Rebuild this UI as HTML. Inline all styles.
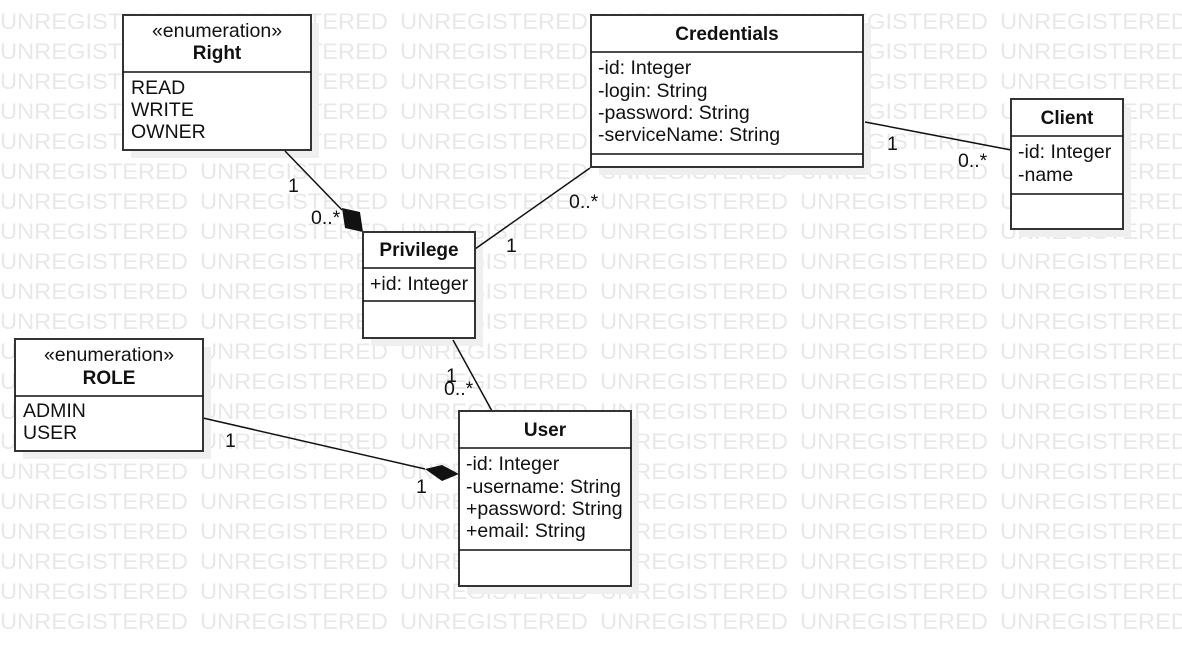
<!DOCTYPE html>
<html><head><meta charset="utf-8"><style>
html,body{margin:0;padding:0;background:#fff;width:1182px;height:646px;overflow:hidden}
svg{display:block;font-family:"Liberation Sans",Arial,sans-serif}
.wm{fill:#e8e8e8;font-size:22px}
.b{fill:#fff;stroke:#333;stroke-width:2}
.sh{fill:#efefef}
.t{font-size:19.5px;fill:#111}
.h{font-size:19px;font-weight:bold;fill:#111}
.l{stroke:#111;stroke-width:1.5;fill:none}
</style></head><body>
<svg width="1182" height="646" viewBox="0 0 1182 646" xmlns="http://www.w3.org/2000/svg">
<g class="wm" id="wm"></g>
<script>
(function(){var g=document.getElementById('wm');var ns='http://www.w3.org/2000/svg';
for(var r=0;r<21;r++){for(var c=0;c<6;c++){var t=document.createElementNS(ns,'text');t.setAttribute('x',c*200);t.setAttribute('y',29+r*30);t.setAttribute('textLength','188');t.setAttribute('lengthAdjust','spacingAndGlyphs');t.textContent='UNREGISTERED';g.appendChild(t);}}})();
</script>
<rect class="sh" x="131" y="23" width="188" height="135"/>
<rect class="sh" x="599" y="23" width="272" height="152"/>
<rect class="sh" x="1019" y="107" width="112" height="130"/>
<rect class="sh" x="371" y="240" width="112" height="106"/>
<rect class="sh" x="23" y="347" width="188" height="112"/>
<rect class="sh" x="467" y="419" width="172" height="175"/>
<line class="l" x1="285" y1="151" x2="342" y2="210"/>
<polygon points="363,232 360,212 342,208 345,228" fill="#111"/>
<line class="l" x1="590" y1="168" x2="475" y2="249"/>
<line class="l" x1="865" y1="122" x2="1011" y2="150"/>
<line class="l" x1="453" y1="340" x2="492" y2="411"/>
<line class="l" x1="203" y1="418" x2="425" y2="469"/>
<polygon points="459,474 442,465 425,469 442,481" fill="#111"/>
<rect class="b" x="123" y="15" width="188" height="135"/>
<line class="l" stroke-width="2" x1="123" y1="72" x2="311" y2="72"/>
<text class="t" x="217" y="37" text-anchor="middle">«enumeration»</text>
<text class="h" x="217" y="59" text-anchor="middle">Right</text>
<text class="t" x="131" y="94">READ</text>
<text class="t" x="131" y="116">WRITE</text>
<text class="t" x="131" y="138">OWNER</text>
<rect class="b" x="591" y="15" width="272" height="152"/>
<line class="l" stroke-width="2" x1="591" y1="52" x2="863" y2="52"/>
<line class="l" stroke-width="2" x1="591" y1="154" x2="863" y2="154"/>
<text class="h" x="727" y="40" text-anchor="middle">Credentials</text>
<text class="t" x="598" y="74">-id: Integer</text>
<text class="t" x="598" y="97">-login: String</text>
<text class="t" x="598" y="119">-password: String</text>
<text class="t" x="598" y="141">-serviceName: String</text>
<rect class="b" x="1011" y="99" width="112" height="130"/>
<line class="l" stroke-width="2" x1="1011" y1="136" x2="1123" y2="136"/>
<line class="l" stroke-width="2" x1="1011" y1="194" x2="1123" y2="194"/>
<text class="h" x="1067" y="124" text-anchor="middle">Client</text>
<text class="t" x="1018" y="158">-id: Integer</text>
<text class="t" x="1018" y="181">-name</text>
<rect class="b" x="363" y="232" width="112" height="106"/>
<line class="l" stroke-width="2" x1="363" y1="268" x2="475" y2="268"/>
<line class="l" stroke-width="2" x1="363" y1="301" x2="475" y2="301"/>
<text class="h" x="419" y="256" text-anchor="middle">Privilege</text>
<text class="t" x="370" y="290">+id: Integer</text>
<rect class="b" x="15" y="339" width="188" height="112"/>
<line class="l" stroke-width="2" x1="15" y1="396" x2="203" y2="396"/>
<text class="t" x="109" y="361" text-anchor="middle">«enumeration»</text>
<text class="h" x="109" y="384" text-anchor="middle">ROLE</text>
<text class="t" x="23" y="417">ADMIN</text>
<text class="t" x="23" y="439">USER</text>
<rect class="b" x="459" y="411" width="172" height="175"/>
<line class="l" stroke-width="2" x1="459" y1="448" x2="631" y2="448"/>
<line class="l" stroke-width="2" x1="459" y1="550" x2="631" y2="550"/>
<text class="h" x="545" y="436" text-anchor="middle">User</text>
<text class="t" x="466" y="470">-id: Integer</text>
<text class="t" x="466" y="493">-username: String</text>
<text class="t" x="466" y="515">+password: String</text>
<text class="t" x="466" y="537">+email: String</text>
<text class="t" x="288" y="192">1</text>
<text class="t" x="311" y="224">0..*</text>
<text class="t" x="569" y="208">0..*</text>
<text class="t" x="506" y="252">1</text>
<text class="t" x="887" y="150">1</text>
<text class="t" x="958" y="167">0..*</text>
<text class="t" x="446" y="382">1</text>
<text class="t" x="444" y="395">0..*</text>
<text class="t" x="225" y="447">1</text>
<text class="t" x="416" y="493">1</text>
</svg>
</body></html>
